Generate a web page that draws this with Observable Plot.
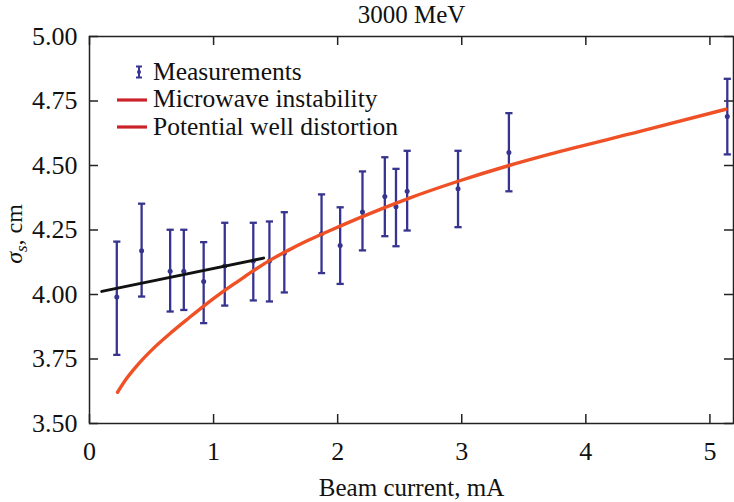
<!DOCTYPE html>
<html>
<head>
<meta charset="utf-8">
<script src="https://cdn.jsdelivr.net/npm/d3@7"></script>
<script src="https://cdn.jsdelivr.net/npm/@observablehq/plot@0.6"></script>
<style>
  body { margin: 0; background: #fff; }
  #wrap { position: relative; width: 734px; height: 502px; font-family: "Liberation Serif", "DejaVu Serif", "Times New Roman", serif; color: #111; }
  #wrap svg.plot { position: absolute; left: 0; top: 0; }
  .leg { position: absolute; left: 153px; font-size: 25.5px; line-height: 25.5px; white-space: nowrap; }
  .glyph { position: absolute; }
  #ylab { position: absolute; left: 13.5px; top: 234px; font-size: 24px; line-height: 16px; white-space: nowrap;
          transform: translate(-50%, -50%) rotate(-90deg); }
  #ylab sub { font-size: 0.7em; line-height: 0; }
</style>
</head>
<body>
<div id="wrap"></div>
<script>
// ---- data ----
const titleText = ["3000 MeV"];
const xLabelText = ["Beam current, mA"];
const legendLabels = ["Measurements", "Microwave instability", "Potential well distortion"];

// measurements (beam current mA, sigma_s cm, error bar low/high)
const current   = [0.22, 0.42, 0.65, 0.76, 0.92, 1.09, 1.32, 1.45, 1.57, 1.87, 2.02, 2.20, 2.38, 2.47, 2.56, 2.97, 3.38, 5.14];
const sigma     = [3.99, 4.17, 4.09, 4.09, 4.05, 4.11, 4.13, 4.13, 4.16, 4.235, 4.19, 4.32, 4.38, 4.34, 4.40, 4.41, 4.55, 4.69];
const sigmaLow  = [3.766, 3.992, 3.934, 3.940, 3.889, 3.957, 3.977, 3.973, 4.008, 4.083, 4.041, 4.171, 4.226, 4.187, 4.248, 4.261, 4.400, 4.543];
const sigmaHigh = [4.205, 4.352, 4.251, 4.251, 4.203, 4.278, 4.278, 4.283, 4.319, 4.388, 4.338, 4.477, 4.532, 4.487, 4.557, 4.557, 4.703, 4.836];

// potential well distortion curve (orange-red)
const pwdCurrent = [0.226, 0.30, 0.395, 0.53, 0.664, 0.798, 0.933, 1.067, 1.202, 1.336, 1.47, 1.605, 1.75, 2.024, 2.199, 2.562, 2.965, 3.381, 3.718, 4.444, 5.129];
const pwdSigma   = [3.621, 3.675, 3.731, 3.798, 3.855, 3.908, 3.960, 4.008, 4.053, 4.097, 4.137, 4.172, 4.207, 4.266, 4.302, 4.371, 4.438, 4.500, 4.545, 4.633, 4.718];

// microwave instability line (black)
const mwCurrent = [0.099, 1.403];
const mwSigma   = [4.012, 4.141];

const xTicks = [0, 1, 2, 3, 4, 5];
const yTicks = [3.5, 3.75, 4.0, 4.25, 4.5, 4.75, 5.0];

// ---- build ----
const meas = current.map((c, i) => ({x: c, y: sigma[i], lo: sigmaLow[i], hi: sigmaHigh[i]}));
const pwd = pwdCurrent.map((c, i) => ({x: c, y: pwdSigma[i]}));
const mw = mwCurrent.map((c, i) => ({x: c, y: mwSigma[i]}));

const W = 734, H = 502, mL = 89, mR = 1, mT = 36, mB = 79;
const pw = W - mL - mR, ph = H - mT - mB, tl = 9;
const barColor = "#37348f";
const curveColor = "#f05025";
const frameColor = "#222";
const fontStack = "'Liberation Serif', 'DejaVu Serif', 'Times New Roman', serif";

const capSymbol = { draw(ctx, size) { const w = Math.sqrt(size / Math.PI); ctx.moveTo(-w, 0); ctx.lineTo(w, 0); } };

const chart = Plot.plot({
  width: W, height: H,
  marginLeft: mL, marginRight: mR, marginTop: mT, marginBottom: mB,
  style: { fontFamily: fontStack, fontSize: "25px", color: "#111", background: "transparent" },
  x: { domain: [0, 5.19] },
  y: { domain: [3.5, 5.0] },
  marks: [
    Plot.axisX(xTicks, { tickSize: 0, tickPadding: 18, label: null, fill: "#111", fontSize: 26, tickFormat: d3.format("d") }),
    Plot.axisY(yTicks, { tickSize: 0, tickPadding: 12, label: null, fill: "#111", fontSize: 26, tickFormat: d3.format(".2f") }),
    // inward ticks on all four sides
    Plot.tickY(yTicks, { y: d => d, insetRight: pw - tl, stroke: frameColor, strokeWidth: 1.5 }),
    Plot.tickY(yTicks, { y: d => d, insetLeft: pw - tl, stroke: frameColor, strokeWidth: 1.5 }),
    Plot.tickX(xTicks, { x: d => d, insetTop: ph - tl, stroke: frameColor, strokeWidth: 1.5 }),
    Plot.tickX(xTicks, { x: d => d, insetBottom: ph - tl, stroke: frameColor, strokeWidth: 1.5 }),
    // error bars
    Plot.ruleX(meas, { x: "x", y1: "lo", y2: "hi", stroke: barColor, strokeWidth: 2.3 }),
    Plot.dot(meas, { x: "x", y: "lo", symbol: capSymbol, r: 3.6, stroke: barColor, strokeWidth: 2.3, fill: "none" }),
    Plot.dot(meas, { x: "x", y: "hi", symbol: capSymbol, r: 3.6, stroke: barColor, strokeWidth: 2.3, fill: "none" }),
    Plot.dot(meas, { x: "x", y: "y", r: 2.5, fill: barColor, stroke: "none" }),
    // curves
    Plot.line(mw, { x: "x", y: "y", stroke: "#111", strokeWidth: 3 }),
    Plot.line(pwd, { x: "x", y: "y", stroke: curveColor, strokeWidth: 3.4, curve: "monotone-x" }),
    Plot.frame({ stroke: frameColor, strokeWidth: 1.5 }),
    // title and x label
    Plot.text(titleText, { text: d => d, frameAnchor: "top", lineAnchor: "middle", dy: -22, fill: "#111" }),
    Plot.text(xLabelText, { text: d => d, frameAnchor: "bottom", lineAnchor: "middle", dy: 64, fill: "#111" })
  ]
});
chart.classList.add("plot");
const wrap = document.getElementById("wrap");
wrap.appendChild(chart);

// y label (real text with subscript)
const yl = document.createElement("div");
yl.id = "ylab";
yl.innerHTML = "<i>σ</i><sub><i>s</i></sub>, cm";
wrap.appendChild(yl);

// legend
const rowTops = [58.5, 86, 113.5];
legendLabels.forEach((lab, i) => {
  const d = document.createElement("div");
  d.className = "leg";
  d.style.top = rowTops[i] + "px";
  d.textContent = lab;
  wrap.appendChild(d);
});
const ns = "http://www.w3.org/2000/svg";
function glyph(left, top, w, h, inner) {
  const s = document.createElementNS(ns, "svg");
  s.setAttribute("class", "glyph");
  s.setAttribute("width", w); s.setAttribute("height", h);
  s.style.left = left + "px"; s.style.top = top + "px";
  s.innerHTML = inner;
  wrap.appendChild(s);
}
glyph(134, 65, 10, 14, `<g stroke="${barColor}" stroke-width="2"><line x1="5" y1="1.5" x2="5" y2="12.5"/><line x1="2" y1="1.5" x2="8" y2="1.5"/><line x1="2" y1="12.5" x2="8" y2="12.5"/></g><circle cx="5" cy="7" r="2" fill="${barColor}"/>`);
glyph(116, 97, 32, 6, `<line x1="1" y1="3" x2="31" y2="3" stroke="#cc2229" stroke-width="3.2"/>`);
glyph(116, 124, 32, 6, `<line x1="1" y1="3" x2="31" y2="3" stroke="#cc2229" stroke-width="3.2"/>`);
</script>
</body>
</html>
